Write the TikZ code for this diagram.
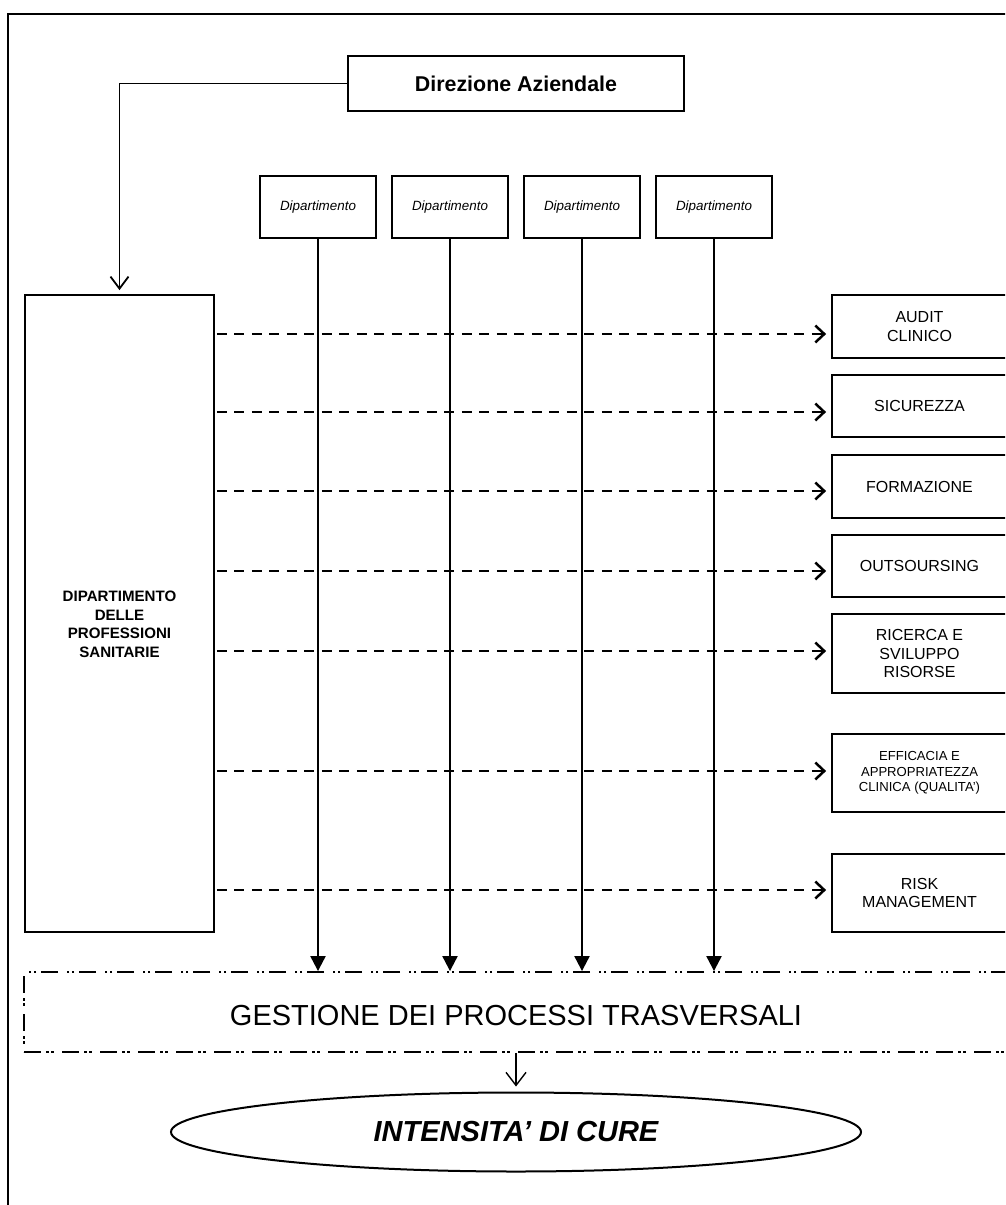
\documentclass[tikz,border=0pt]{standalone}
\usepackage{fontspec}
\setmainfont{Liberation Sans}
\usetikzlibrary{arrows.meta,shapes.geometric}
\begin{document}
\begin{tikzpicture}[x=1pt,y=-1pt,
  box/.style={draw, line width=1.8pt, inner sep=0pt, align=center},
  deptbox/.style={box, minimum width=116pt, minimum height=62pt,
    font=\itshape\fontsize{13.4pt}{15pt}\selectfont},
  areabox/.style={box, minimum width=175pt,
    font=\fontsize{16pt}{18.3pt}\selectfont},
  flow/.style={line width=2.2pt, -{Triangle[width=15pt,length=15pt]}},
  link/.style={dash pattern=on 10pt off 7.5pt, line width=2.5pt,
    -{Straight Barb[width=17pt,length=9pt]}, shorten <=2pt, shorten >=5pt},
  thinarrow/.style={line width=1.8pt, -{Straight Barb[width=18pt,length=12pt]}},
  dashdot/.style={draw, line width=1.9pt,
    dash pattern=on 17pt off 5pt on 2.5pt off 2.5pt on 2.5pt off 8.5pt}]

\useasboundingbox (0,0) rectangle (1005,1205);
\clip (0,0) rectangle (1005,1205);
\fill[white] (0,0) rectangle (1005,1205);

% outer frame (open to the right and bottom)
\draw[line width=1.8pt] (8,1220) -- (8,14) -- (1020,14);

% top management
\node[box, minimum width=336pt, minimum height=55pt,
  font=\bfseries\fontsize{21.4pt}{24pt}\selectfont] (direz) at (516,83.5) {Direzione Aziendale};

% departments
\node[deptbox] (d1) at (318,207) {Dipartimento};
\node[deptbox] (d2) at (450,207) {Dipartimento};
\node[deptbox] (d3) at (582,207) {Dipartimento};
\node[deptbox] (d4) at (714,207) {Dipartimento};

% health professions department
\node[box, minimum width=189pt, minimum height=637pt] (dps) at (119.5,613.5) {};
\node[align=center, inner sep=0pt,
  font=\bfseries\fontsize{15.1pt}{18.5pt}\selectfont] (dpstext) at ([yshift=-11pt]dps.center)
  {DIPARTIMENTO\\DELLE\\PROFESSIONI\\SANITARIE};

% transversal areas
\node[areabox, minimum height=63pt] (audit) at (919.5,326.5) {AUDIT\\CLINICO};
\node[areabox, minimum height=62pt] (sicur) at (919.5,406)   {SICUREZZA};
\node[areabox, minimum height=63pt] (form)  at (919.5,486.5) {FORMAZIONE};
\node[areabox, minimum height=62pt] (outs)  at (919.5,566)   {OUTSOURSING};
\node[areabox, minimum height=79pt] (ric)   at (919.5,653.5) {RICERCA E\\SVILUPPO\\RISORSE};
\node[areabox, minimum height=78pt, font=\fontsize{13.1pt}{15.5pt}\selectfont] (eff) at (919.5,773)
  {EFFICACIA E\\APPROPRIATEZZA\\CLINICA (QUALITA’)};
\node[areabox, minimum height=78pt] (risk)  at (919.5,893)   {RISK\\MANAGEMENT};

% transversal processes band
\node[dashdot, inner sep=0pt, minimum width=984pt, minimum height=80pt] (gest) at (516,1012) {};
\node[inner sep=0pt, font=\fontsize{29pt}{32pt}\selectfont] (gesttext) at (516,1016)
  {GESTIONE DEI PROCESSI TRASVERSALI};

% care intensity
\node[draw, ellipse, line width=2pt, inner sep=0pt, minimum width=690pt, minimum height=79pt,
  font=\bfseries\itshape\fontsize{29pt}{32pt}\selectfont] (cure) at (516,1132) {INTENSITA’ DI CURE};

% connectors
\draw[thinarrow, shorten >=4pt] (direz.west) -| (dps.north);

\foreach \d in {d1,d2,d3,d4}
  \draw[flow] (\d.south) -- (\d.south |- gest.north);

\foreach \b/\s in {audit/-7.5, sicur/-6, form/-4.5, outs/-5, ric/2.5, eff/2, risk/3} {
  \coordinate (\b-in) at ([yshift=\s pt]\b.west);
  \draw[link] (dps.east |- \b-in) -- (\b-in);
}

\draw[thinarrow, line width=1.4pt, -{Straight Barb[width=20pt,length=13pt]}, shorten >=5pt]
  (gest.south) -- (cure.north);

\end{tikzpicture}
\end{document}
